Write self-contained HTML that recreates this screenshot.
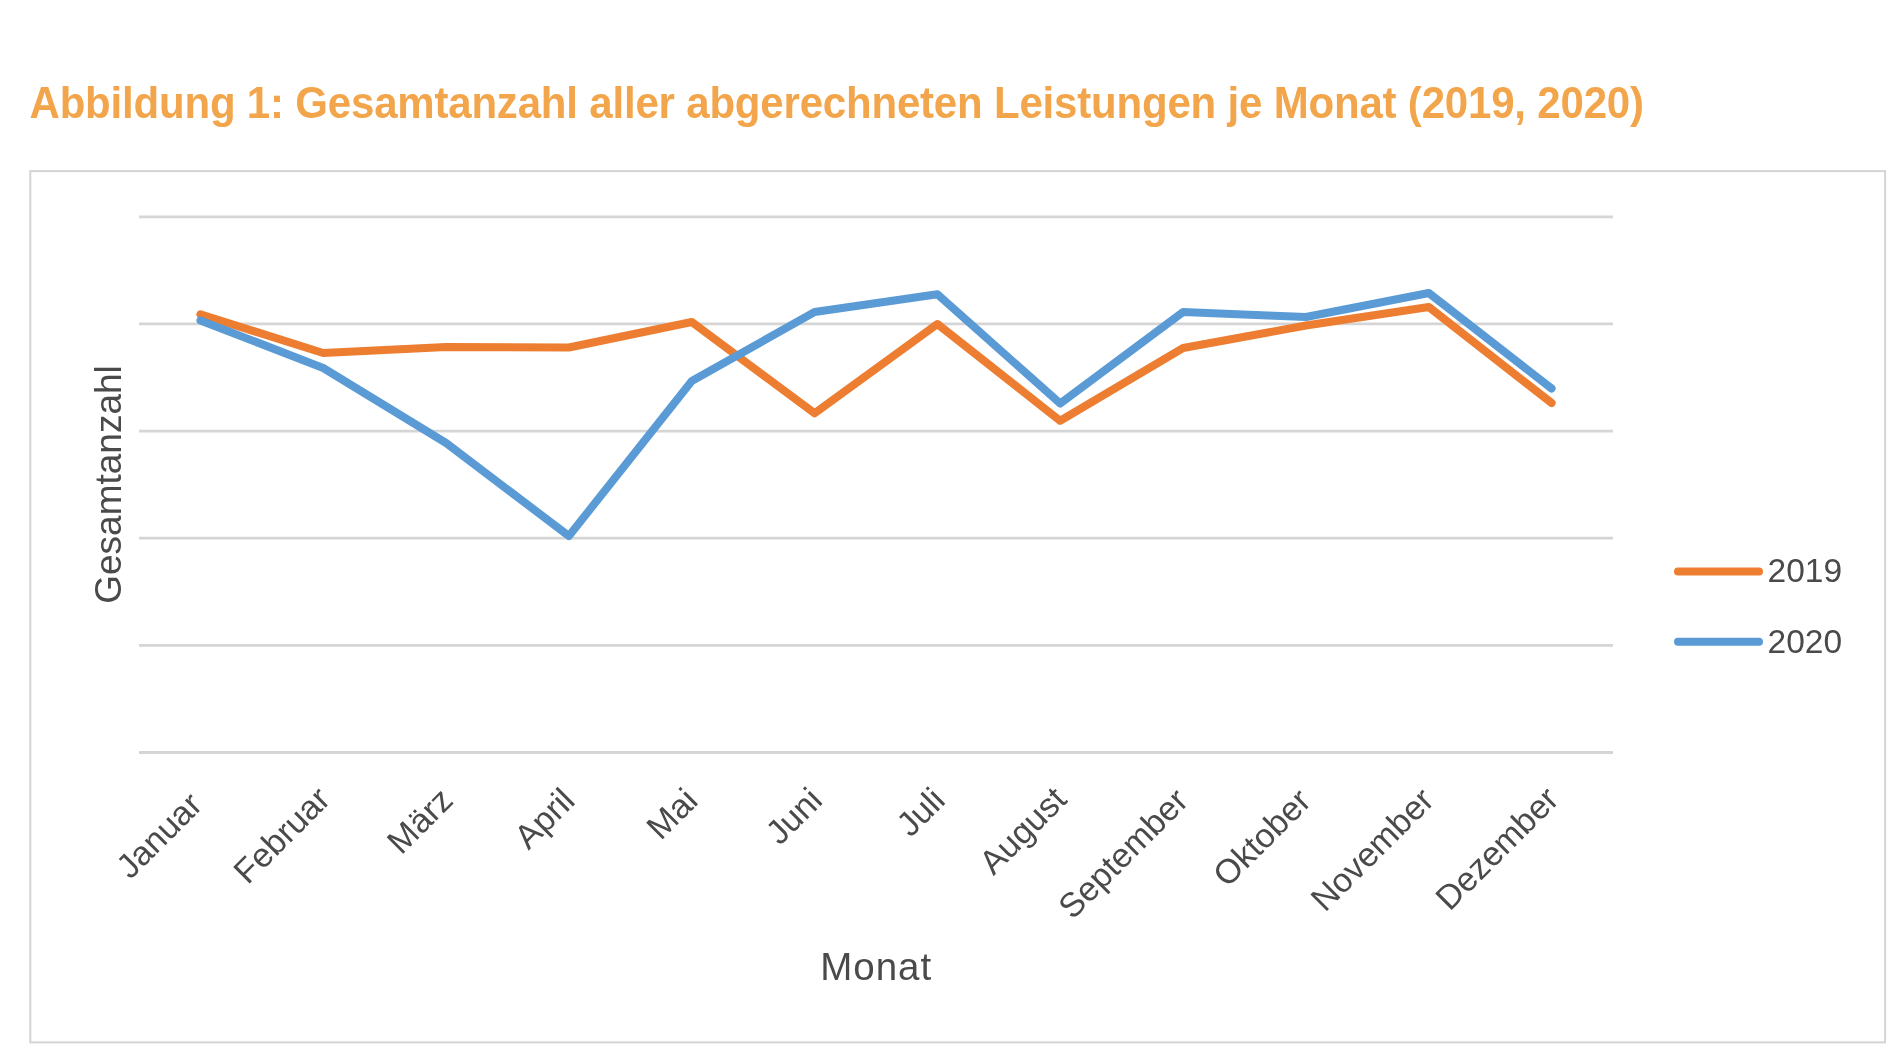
<!DOCTYPE html>
<html><head><meta charset="utf-8"><style>
html,body{margin:0;padding:0;background:#fff;width:1900px;height:1050px;overflow:hidden}
svg{position:absolute;left:0;top:0;filter:blur(0.45px)}
text{font-family:"Liberation Sans",sans-serif}
</style></head><body>
<svg width="1900" height="1050" viewBox="0 0 1900 1050">
<text transform="translate(29.5,118) scale(1,1.04)" font-weight="bold" font-size="42" letter-spacing="-0.18" fill="#F2A54A">Abbildung 1: Gesamtanzahl aller abgerechneten Leistungen je Monat (2019, 2020)</text>
<rect x="30.3" y="171.1" width="1854.8" height="871.3" fill="#fff" stroke="#d4d4d4" stroke-width="2"/>
<g stroke="#d5d5d5" stroke-width="2.8">
<line x1="139.0" y1="216.8" x2="1613.0" y2="216.8"/>
<line x1="139.0" y1="323.9" x2="1613.0" y2="323.9"/>
<line x1="139.0" y1="431.1" x2="1613.0" y2="431.1"/>
<line x1="139.0" y1="538.2" x2="1613.0" y2="538.2"/>
<line x1="139.0" y1="645.3" x2="1613.0" y2="645.3"/>
<line x1="139.0" y1="752.5" x2="1613.0" y2="752.5"/>
</g>
<g fill="none" stroke-width="8" stroke-linejoin="round" stroke-linecap="round">
<polyline stroke="#ED7D31" points="200.4,314.3 323.2,353.0 446.1,347.0 568.9,347.5 691.8,322.0 814.6,413.3 937.4,324.0 1060.2,420.8 1183.1,348.0 1305.9,325.5 1428.8,307.0 1551.6,403.0"/>
<polyline stroke="#5B9BD5" points="200.4,320.4 323.2,368.0 446.1,443.0 568.9,536.0 691.8,381.0 814.6,312.0 937.4,294.3 1060.2,403.5 1183.1,312.0 1305.9,317.0 1428.8,293.0 1551.6,388.5"/>
</g>
<g fill="#4a4a4a" font-size="34">
<text transform="translate(204.0,806.8) rotate(-45)" text-anchor="end">Januar</text>
<text transform="translate(332.0,801.2) rotate(-45)" text-anchor="end">Februar</text>
<text transform="translate(454.8,802.2) rotate(-45)" text-anchor="end">März</text>
<text transform="translate(576.7,802.6) rotate(-45)" text-anchor="end">April</text>
<text transform="translate(699.6,802.6) rotate(-45)" text-anchor="end">Mai</text>
<text transform="translate(824.2,802.2) rotate(-45)" text-anchor="end">Juni</text>
<text transform="translate(946.9,802.2) rotate(-45)" text-anchor="end">Juli</text>
<text transform="translate(1068.4,801.4) rotate(-45)" text-anchor="end">August</text>
<text transform="translate(1190.0,802.8) rotate(-45)" text-anchor="end">September</text>
<text transform="translate(1312.8,803.0) rotate(-45)" text-anchor="end">Oktober</text>
<text transform="translate(1435.8,802.2) rotate(-45)" text-anchor="end">November</text>
<text transform="translate(1560.6,801.2) rotate(-45)" text-anchor="end">Dezember</text>
</g>
<text transform="translate(121,484.5) rotate(-90)" text-anchor="middle" font-size="37" fill="#4a4a4a">Gesamtanzahl</text>
<text x="876.2" y="979.5" text-anchor="middle" font-size="38.5" letter-spacing="1.0" fill="#4a4a4a">Monat</text>
<g stroke-width="8" stroke-linecap="round">
<line x1="1678" y1="571.6" x2="1759" y2="571.6" stroke="#ED7D31"/>
<line x1="1678" y1="641.8" x2="1759" y2="641.8" stroke="#5B9BD5"/>
</g>
<g font-size="33.5" fill="#4a4a4a">
<text x="1767.5" y="582">2019</text>
<text x="1767.5" y="652.5">2020</text>
</g>
</svg>
</body></html>
